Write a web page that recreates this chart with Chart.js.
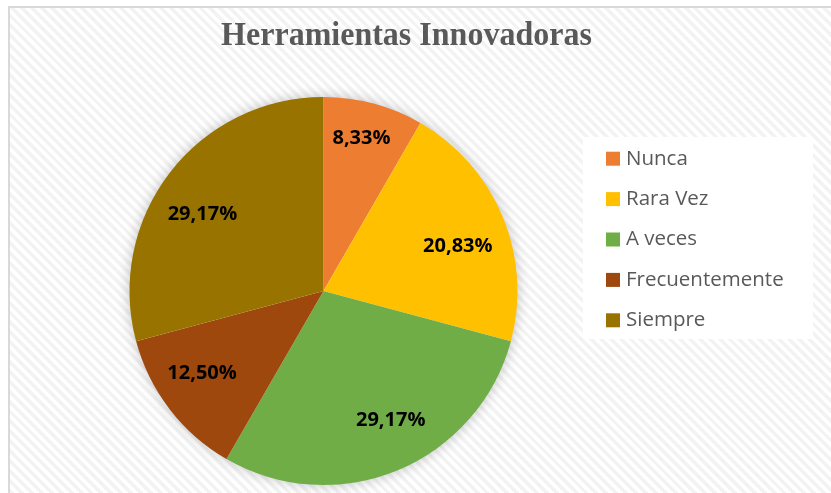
<!DOCTYPE html>
<html>
<head>
<meta charset="utf-8">
<script src="https://cdn.jsdelivr.net/npm/chart.js@4"></script>
<style>
  html, body { margin: 0; padding: 0; background: #fff; }
  body { width: 831px; height: 493px; position: relative; overflow: hidden; }
  .frame {
    position: absolute; left: 8px; top: 6px; width: 840px; height: 500px;
    border-left: 2px solid #d9d9d9; border-top: 2px solid #d9d9d9;
    background: repeating-linear-gradient(45deg, #ffffff 0 3.5px, #f3f3f3 3.5px 7px);
  }
  .chart-box { position: absolute; left: 0; top: 0; width: 831px; height: 493px; }
</style>
</head>
<body>
<div class="frame"></div>
<div class="chart-box"><canvas id="chart"></canvas></div>
<script>
// chart data
const chartTitle = 'Herramientas Innovadoras';
const categories = ['Nunca', 'Rara Vez', 'A veces', 'Frecuentemente', 'Siempre'];
const percentages = [8.33, 20.83, 29.17, 12.50, 29.17];
const sliceColors = ['#ED7D31', '#FFC000', '#70AD47', '#9E480E', '#997300'];

// label placement tweaks (fraction of radius, angle nudge in degrees)
const labelNudge = [
  { r: 0.81, da: -1 },
  { r: 0.73, da: 4 },
  { r: 0.75, da: -5 },
  { r: 0.755, da: 3.5 },
  { r: 0.74, da: -5 }
];

const formatPct = v => v.toFixed(2).replace('.', ',') + '%';

// soft shadow behind the whole pie
const pieShadow = {
  id: 'pieShadow',
  beforeDatasetsDraw(chart) {
    const arc = chart.getDatasetMeta(0).data[0];
    if (!arc) return;
    const ctx = chart.ctx;
    ctx.save();
    ctx.shadowColor = 'rgba(0,0,0,0.28)';
    ctx.shadowBlur = 14;
    ctx.fillStyle = '#ffffff';
    ctx.beginPath();
    ctx.arc(arc.x, arc.y, arc.outerRadius - 1, 0, Math.PI * 2);
    ctx.fill();
    ctx.restore();
  }
};

// percentage labels on the slices
const sliceLabels = {
  id: 'sliceLabels',
  afterDatasetsDraw(chart) {
    const ctx = chart.ctx;
    const meta = chart.getDatasetMeta(0);
    ctx.save();
    ctx.font = 'bold 20px "Open Sans", sans-serif';
    ctx.fillStyle = '#000';
    ctx.textAlign = 'center';
    ctx.textBaseline = 'middle';
    meta.data.forEach((arc, i) => {
      const nudge = labelNudge[i];
      const mid = (arc.startAngle + arc.endAngle) / 2 + nudge.da * Math.PI / 180;
      const r = arc.outerRadius * nudge.r;
      ctx.fillText(formatPct(percentages[i]), arc.x + Math.cos(mid) * r, arc.y + Math.sin(mid) * r);
    });
    ctx.restore();
  }
};

// title centred over the whole frame, legend panel on the right
const frameText = {
  id: 'frameText',
  afterDraw(chart) {
    const ctx = chart.ctx;
    ctx.save();
    ctx.translate(406.5, 45);
    ctx.scale(0.97, 1.04);
    ctx.font = 'bold 33px "Liberation Serif", "Times New Roman", serif';
    ctx.fillStyle = '#595959';
    ctx.textAlign = 'center';
    ctx.textBaseline = 'alphabetic';
    ctx.fillText(chartTitle, 0, 0);
    ctx.restore();

    ctx.save();
    ctx.fillStyle = '#ffffff';
    ctx.fillRect(583, 137, 230, 202);
    ctx.font = '20.5px "Open Sans", sans-serif';
    ctx.textBaseline = 'middle';
    ctx.textAlign = 'left';
    categories.forEach((name, i) => {
      const cy = 158.7 + i * 40.4;
      ctx.fillStyle = sliceColors[i];
      ctx.fillRect(606, cy - 7, 14, 14);
      ctx.fillStyle = '#595959';
      ctx.fillText(name, 626, cy);
    });
    ctx.restore();
  }
};

new Chart(document.getElementById('chart'), {
  type: 'pie',
  data: {
    labels: categories,
    datasets: [{
      data: percentages,
      backgroundColor: sliceColors,
      borderWidth: 0
    }]
  },
  options: {
    responsive: true,
    maintainAspectRatio: false,
    animation: false,
    layout: { padding: { left: 129.5, right: 313.5, top: 97, bottom: 8 } },
    plugins: {
      legend: { display: false },
      tooltip: { enabled: false },
      title: { display: false }
    }
  },
  plugins: [pieShadow, sliceLabels, frameText]
});
</script>
</body>
</html>
